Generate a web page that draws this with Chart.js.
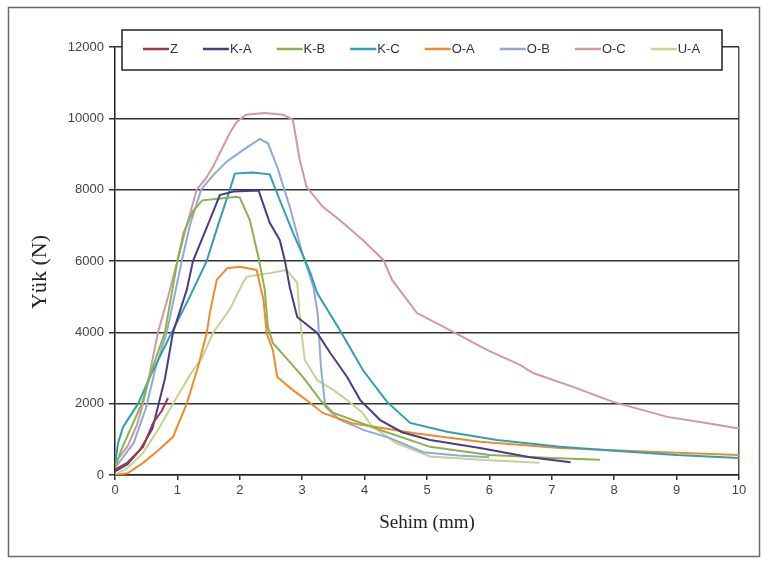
<!DOCTYPE html>
<html lang="en">
<head>
  <meta charset="UTF-8" />
  <title>Yük - Sehim</title>
  <script src="https://cdn.jsdelivr.net/npm/chart.js"></script>
  <style>
    body { margin: 0; background: #ffffff; }
    #wrap { width: 768px; height: 565px; }
  </style>
</head>
<body>
<div id="wrap"><canvas id="loadChart" width="768" height="565"></canvas></div>
<script>
  // series names and colours (legend order)
  const seriesNames = ['Z', 'K-A', 'K-B', 'K-C', 'O-A', 'O-B', 'O-C', 'U-A'];
  const seriesColors = ['#A0384A', '#4E3B86', '#8CB24A', '#2F9FB2', '#F08B2C', '#8FAAD6', '#D09A9C', '#C0D592'];

  // [sehim mm, yük N]
  const dataZ = [[0,150],[0.2,350],[0.45,790],[0.61,1460],[0.75,1800],[0.85,2160]];
  const dataKA = [[0,100],[0.2,300],[0.4,700],[0.6,1300],[0.7,2000],[0.8,2700],[0.93,4000],[1.15,5190],[1.25,6000],[1.52,7150],[1.68,7850],[1.9,7950],[2.3,7980],[2.48,7070],[2.64,6590],[2.72,6030],[2.8,5270],[2.92,4430],[3.24,3980],[3.45,3420],[3.72,2750],[3.93,2100],[4.25,1540],[4.6,1200],[5.05,980],[5.85,760],[6.65,500],[7.3,360]];
  const dataKB = [[0,200],[0.1,700],[0.25,1300],[0.43,2000],[0.6,3000],[0.8,4000],[0.9,5000],[1.0,6000],[1.1,6800],[1.25,7400],[1.4,7700],[1.7,7750],[1.95,7800],[2.0,7780],[2.16,7150],[2.3,6100],[2.4,5200],[2.45,4150],[2.53,3700],[2.77,3230],[3.01,2750],[3.29,2100],[3.5,1740],[4.25,1260],[5.05,790],[6.0,560],[7.0,480],[7.77,430]];
  const dataKC = [[0,300],[0.05,900],[0.13,1350],[0.37,2000],[0.6,2900],[0.91,4000],[1.2,5000],[1.47,6000],[1.65,7000],[1.84,8000],[1.92,8450],[2.2,8480],[2.48,8430],[2.64,7710],[2.85,6800],[3.0,6200],[3.13,5670],[3.24,5100],[3.6,4070],[3.97,2950],[4.25,2300],[4.36,2050],[4.73,1460],[5.32,1210],[6.12,980],[7.13,790],[8,680],[9,560],[10,480]];
  const dataOA = [[0,0],[0.2,50],[0.45,340],[0.7,700],[0.93,1070],[1.15,2000],[1.33,3030],[1.47,3980],[1.52,4540],[1.63,5470],[1.8,5800],[2.0,5840],[2.27,5750],[2.38,4910],[2.43,3980],[2.53,3500],[2.6,2750],[2.85,2380],[3.13,2020],[3.33,1740],[3.8,1450],[4.78,1180],[5.85,930],[7.13,760],[8.57,650],[10,560]];
  const dataOB = [[0,200],[0.3,900],[0.5,1900],[0.65,3000],[0.83,4000],[1.07,6000],[1.2,7000],[1.38,8000],[1.57,8400],[1.8,8800],[2.05,9110],[2.32,9420],[2.45,9300],[2.6,8640],[2.8,7520],[3.0,6230],[3.18,5270],[3.25,4500],[3.3,3030],[3.37,1910],[3.6,1550],[4.0,1250],[4.4,1040],[4.94,640],[5.5,550],[6.0,500]];
  const dataOC = [[0,350],[0.2,800],[0.35,1400],[0.45,2000],[0.55,2800],[0.69,4000],[0.85,5000],[1.0,6000],[1.15,7000],[1.31,8000],[1.45,8300],[1.57,8640],[1.7,9100],[1.84,9590],[1.95,9900],[2.1,10100],[2.4,10150],[2.7,10100],[2.85,9960],[2.96,8840],[3.07,8080],[3.33,7520],[3.6,7150],[3.97,6590],[4.3,6030],[4.44,5470],[4.84,4540],[5.42,4010],[5.96,3510],[6.49,3090],[6.7,2860],[7.34,2470],[7.98,2050],[8.85,1630],[9.5,1450],[10,1300]];
  const dataUA = [[0,0],[0.2,200],[0.45,620],[0.7,1300],[0.93,2000],[1.2,2800],[1.4,3300],[1.57,3980],[1.84,4650],[2.05,5390],[2.11,5560],[2.48,5660],[2.75,5750],[2.92,5390],[2.96,4430],[3.04,3230],[3.24,2660],[3.5,2380],[3.72,2100],[3.97,1740],[4.1,1400],[4.5,900],[5.05,520],[5.85,430],[6.8,340]];

  const allSeries = [dataZ, dataKA, dataKB, dataKC, dataOA, dataOB, dataOC, dataUA];

  // axis ranges
  const xMin = 0, xMax = 10, xStep = 1;
  const yMin = 0, yMax = 12000, yStep = 2000;

  const sansFont = '"Liberation Sans", Arial, sans-serif';
  const serifFont = '"Liberation Serif", "DejaVu Serif", serif';

  // white page, outer frame, axis titles and the legend box
  const decorPlugin = {
    id: 'decor',
    beforeDraw(chart) {
      const ctx = chart.ctx;
      ctx.save();
      ctx.fillStyle = '#ffffff';
      ctx.fillRect(0, 0, chart.width, chart.height);
      ctx.strokeStyle = '#6a6a6a';
      ctx.lineWidth = 1.5;
      ctx.strokeRect(8.5, 7.5, 751, 549);
      ctx.restore();
    },
    afterDraw(chart) {
      const ctx = chart.ctx;
      const area = chart.chartArea;
      ctx.save();
      // axis titles
      ctx.fillStyle = '#222';
      ctx.font = '19px ' + serifFont;
      ctx.textAlign = 'center';
      ctx.textBaseline = 'middle';
      ctx.fillText('Sehim (mm)', (area.left + area.right) / 2, 523);
      ctx.translate(40, 272);
      ctx.rotate(-Math.PI / 2);
      ctx.font = '22px ' + serifFont;
      ctx.fillText('Yük (N)', 0, 0);
      ctx.restore();

      // legend
      ctx.save();
      const boxL = 122, boxT = 30, boxR = 722, boxB = 70;
      ctx.fillStyle = '#ffffff';
      ctx.fillRect(boxL, boxT, boxR - boxL, boxB - boxT);
      ctx.strokeStyle = '#222';
      ctx.lineWidth = 1.5;
      ctx.strokeRect(boxL, boxT, boxR - boxL, boxB - boxT);
      ctx.font = '13px ' + sansFont;
      ctx.textAlign = 'left';
      ctx.textBaseline = 'middle';
      const cy = (boxT + boxB) / 2 - 1;
      let x0 = 143;
      chart.data.datasets.forEach((ds) => {
        ctx.strokeStyle = ds.borderColor;
        ctx.lineWidth = 2.5;
        ctx.beginPath();
        ctx.moveTo(x0, cy);
        ctx.lineTo(x0 + 26, cy);
        ctx.stroke();
        ctx.fillStyle = '#333';
        ctx.fillText(ds.label, x0 + 27, cy);
        x0 += 29 + ctx.measureText(ds.label).width + 23;
      });
      ctx.restore();
    }
  };

  const datasets = allSeries.map((pts, i) => ({
    label: seriesNames[i],
    data: pts.map(p => ({ x: p[0], y: p[1] })),
    borderColor: seriesColors[i],
    backgroundColor: seriesColors[i],
    borderWidth: 2,
    pointRadius: 0,
    fill: false,
    tension: 0
  }));

  new Chart(document.getElementById('loadChart').getContext('2d'), {
    type: 'line',
    data: { datasets: datasets },
    plugins: [decorPlugin],
    options: {
      responsive: false,
      animation: false,
      layout: { padding: { top: 47, right: 29, left: 0, bottom: 0 } },
      plugins: { legend: { display: false }, tooltip: { enabled: false } },
      scales: {
        x: {
          type: 'linear',
          min: xMin, max: xMax,
          afterFit: (s) => { s.height = 90; },
          ticks: {
            stepSize: xStep,
            color: '#444',
            padding: 3,
            font: { family: sansFont, size: 13 }
          },
          grid: {
            drawOnChartArea: true,
            color: (c) => (c.tick && c.tick.value === xMax ? '#555' : 'rgba(0,0,0,0)'),
            tickColor: '#333',
            tickLength: 5,
            lineWidth: 1.5
          },
          border: { display: true, color: '#222', width: 1.5 }
        },
        y: {
          min: yMin, max: yMax,
          afterFit: (s) => { s.width = 115; },
          ticks: {
            stepSize: yStep,
            color: '#444',
            padding: 5,
            font: { family: sansFont, size: 13 },
            callback: (v) => String(v)
          },
          grid: {
            color: '#333',
            tickColor: '#333',
            tickLength: 6,
            lineWidth: 1.5
          },
          border: { display: true, color: '#222', width: 1.5 }
        }
      }
    }
  });
</script>
</body>
</html>
